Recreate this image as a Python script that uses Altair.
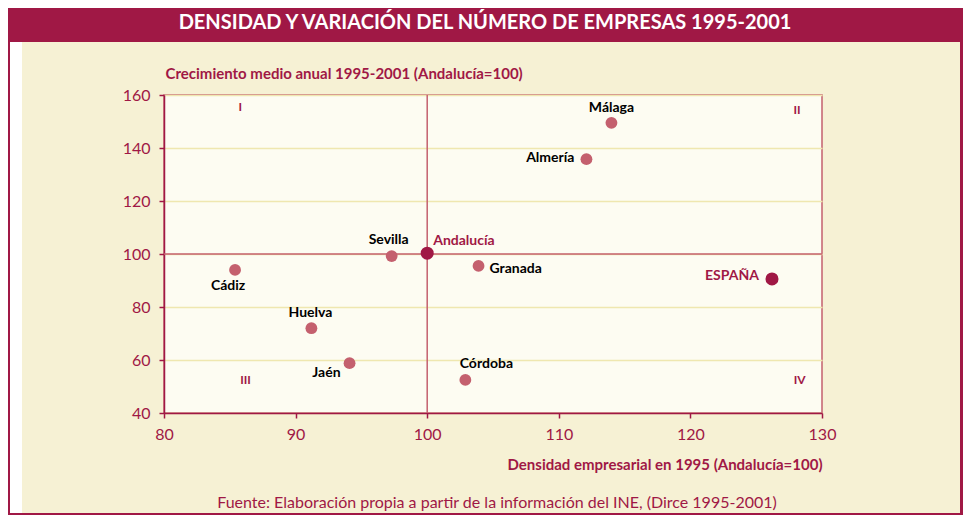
import altair as alt
import pandas as pd

# ---- data ----
names = ["Málaga", "Almería", "Andalucía", "Sevilla", "Granada", "Cádiz",
         "ESPAÑA", "Huelva", "Jaén", "Córdoba"]
densidad = [114.0, 112.1, 100.0, 97.3, 103.9, 85.4, 126.2, 91.2, 94.1, 102.9]
crecimiento = [149.5, 135.8, 100.3, 99.2, 95.5, 94.0, 90.6, 72.0, 58.8, 52.5]
grupo = ["prov", "prov", "ref", "prov", "prov", "prov", "ref", "prov", "prov", "prov"]

quad_labels = ["I", "II", "III", "IV"]
quad_x = [85.8, 128.1, 86.2, 128.3]
quad_y = [155.3, 154.5, 52.5, 52.5]

x_ticks = [80, 90, 100, 110, 120, 130]
y_ticks = [40, 60, 80, 100, 120, 140, 160]
ref_x = [100]
ref_y = [100]

title_text = "DENSIDAD Y VARIACIÓN DEL NÚMERO DE EMPRESAS 1995-2001"
y_title = "Crecimiento medio anual 1995-2001 (Andalucía=100)"
x_title = "Densidad empresarial en 1995 (Andalucía=100)"
source_text = "Fuente: Elaboración propia a partir de la información del INE, (Dirce 1995-2001)"

# ---- styles ----
CRIMSON = "#A01845"
ROSE = "#C4606E"
BEIGE = "#F6F1D4"
PLOT_BG = "#FDFCF2"
GRID = "#EFE7B0"
FONT = "Lato"

W, H = 658, 318
PAD = {"left": 156, "top": 87, "right": 141, "bottom": 102}

df = pd.DataFrame({"name": names, "x": densidad, "y": crecimiento, "grupo": grupo})
qdf = pd.DataFrame({"label": quad_labels, "x": quad_x, "y": quad_y})
one = pd.DataFrame({"a": [0]})

xscale = alt.Scale(domain=[80, 130], nice=False, zero=False)
yscale = alt.Scale(domain=[40, 160], nice=False, zero=False)

xaxis = alt.Axis(values=x_ticks, title=x_title, grid=False, labelFlush=False,
                 titleAlign="right", titleAnchor="end", titleX=W, titleY=56,
                 titleBaseline="alphabetic", labelPadding=8)
yaxis = alt.Axis(values=y_ticks, title=y_title, grid=True, gridColor=GRID,
                 gridWidth=1.5, titleAngle=0, titleAlign="left", titleX=1,
                 labelFlush=False,
                 titleY=-17, titleBaseline="alphabetic", labelPadding=9)

def frame_rect(x, x2, y, y2, color):
    return alt.Chart(one).mark_rect(color=color, clip=False).encode(
        x=alt.value(x), x2=alt.value(x2), y=alt.value(y), y2=alt.value(y2))

L, T = PAD["left"], PAD["top"]
right_edge = W + PAD["right"]
bottom_edge = H + PAD["bottom"]

frames = [
    frame_rect(-L + 2, -L + 14, -53, bottom_edge - 2, "white"),
    frame_rect(-L, -L + 2, -T, bottom_edge, CRIMSON),
    frame_rect(right_edge - 3, right_edge, -T, bottom_edge, CRIMSON),
    frame_rect(-L, right_edge, bottom_edge - 2, bottom_edge, CRIMSON),
    frame_rect(-L, right_edge, -T + 0, -53, CRIMSON),
]

title = alt.Chart(one).mark_text(text=title_text, color="white", font=FONT,
                                 fontSize=20, fontWeight="bold", align="center",
                                 baseline="middle").encode(
    x=alt.value(321), y=alt.value(-72))

source = alt.Chart(one).mark_text(text=source_text, color=CRIMSON, font=FONT,
                                  fontSize=16, align="center",
                                  baseline="middle").encode(
    x=alt.value(333), y=alt.value(408))

base = alt.Chart(df)

refx = alt.Chart(pd.DataFrame({"v": ref_x})).mark_rule(color=ROSE, strokeWidth=1.5).encode(
    x=alt.X("v:Q", scale=xscale, axis=xaxis))
refy = alt.Chart(pd.DataFrame({"v": ref_y})).mark_rule(color=ROSE, strokeWidth=1.5).encode(
    y=alt.Y("v:Q", scale=yscale, axis=yaxis))

points = base.mark_circle(opacity=1).encode(
    x=alt.X("x:Q", scale=xscale),
    y=alt.Y("y:Q", scale=yscale),
    color=alt.Color("grupo:N", scale=alt.Scale(domain=["prov", "ref"],
                                               range=[ROSE, CRIMSON]), legend=None),
    size=alt.Size("grupo:N", scale=alt.Scale(domain=["prov", "ref"],
                                             range=[140, 170]), legend=None),
)

# label placement: name -> (align, dx, dy, color)
label_style = {
    "Málaga": ("center", 0, -15, "black"),
    "Almería": ("right", -12, -1, "black"),
    "Andalucía": ("left", 6, -12, CRIMSON),
    "Sevilla": ("center", -3, -16, "black"),
    "Granada": ("left", 11, 3, "black"),
    "Cádiz": ("center", -7, 16, "black"),
    "ESPAÑA": ("right", -13, -3, CRIMSON),
    "Huelva": ("center", -1, -15, "black"),
    "Jaén": ("right", -9, 10, "black"),
    "Córdoba": ("center", 21, -16, "black"),
}

labels = []
for nm, (al, dx, dy, col) in label_style.items():
    labels.append(base.transform_filter(alt.datum.name == nm).mark_text(
        align=al, dx=dx, dy=dy, color=col, font=FONT, fontSize=14,
        fontWeight="bold", baseline="middle").encode(
        x=alt.X("x:Q", scale=xscale), y=alt.Y("y:Q", scale=yscale),
        text="name:N"))

quads = alt.Chart(qdf).mark_text(color=CRIMSON, font=FONT, fontSize=12,
                                 fontWeight="bold", baseline="middle",
                                 align="center").encode(
    x=alt.X("x:Q", scale=xscale), y=alt.Y("y:Q", scale=yscale), text="label:N")

chart = alt.layer(*frames, title, source, refx, refy, points, quads, *labels).properties(
    width=W, height=H, padding=PAD,
    autosize=alt.AutoSizeParams(type="none"),
    background=BEIGE,
).configure_view(fill=PLOT_BG, stroke=ROSE, strokeWidth=1.5).configure_axis(
    domainColor=CRIMSON, domainWidth=1.5, tickColor=CRIMSON, tickWidth=1.5,
    tickSize=5, labelColor=CRIMSON, labelFont=FONT, labelFontSize=16,
    titleColor=CRIMSON, titleFont=FONT, titleFontSize=15, titleFontWeight="bold",
)

chart.save("out.html", embed_options={"renderer": "svg", "actions": False})
